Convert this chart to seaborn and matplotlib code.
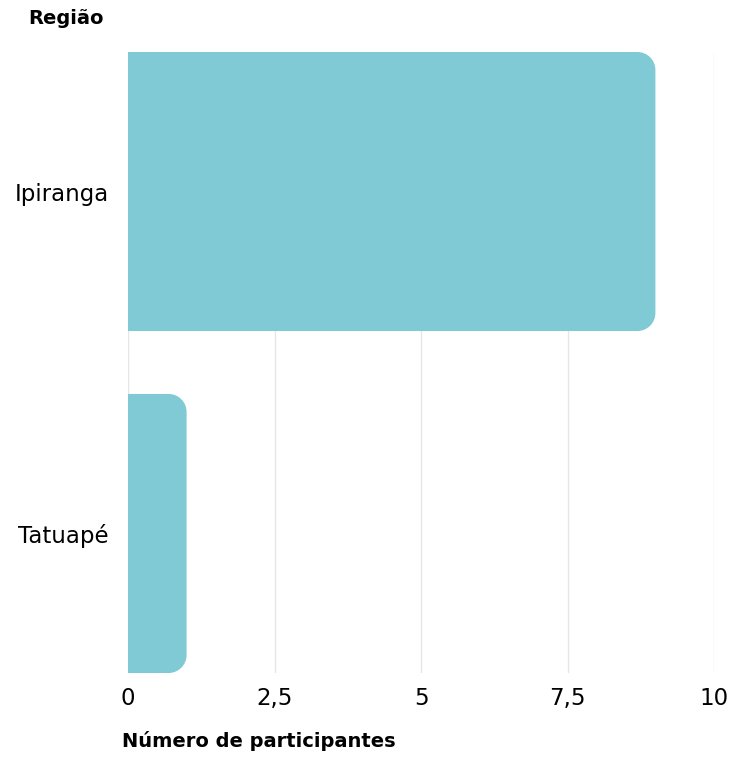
import matplotlib
matplotlib.use("Agg")
import matplotlib.pyplot as plt
import seaborn as sns
import pandas as pd
from matplotlib.path import Path
from matplotlib.patches import PathPatch
from matplotlib.ticker import FuncFormatter

# ---- data ----
regioes = ["Ipiranga", "Tatuapé"]
participantes = [9, 1]
xticks = [0, 2.5, 5, 7.5, 10]

df = pd.DataFrame({"Região": regioes, "Participantes": participantes})

sns.set_theme(style="white")
plt.rcParams["font.family"] = ["DejaVu Sans"]

BAR_COLOR = "#80cad6"
W, H, DPI = 729, 758, 100
fig = plt.figure(figsize=(W / DPI, H / DPI), dpi=DPI)
ax = fig.add_axes([128 / W, 85 / H, (714 - 128) / W, (673 - 52) / H])

width = 0.816
sns.barplot(data=df, y="Região", x="Participantes", orient="h", color=BAR_COLOR,
            saturation=1, width=width, ax=ax, zorder=2)

ax.set_xlim(0, 10)
ax.set_ylim(1 + width / 2, -width / 2)
fig.canvas.draw()

# round right corners of each bar
px_per_x = (714 - 128) / 10.0
px_per_y = (673 - 52) / (1 + width)
r_px = 18
rx = r_px / px_per_x
ry = r_px / px_per_y
k = 0.5523
for p in list(ax.patches):
    x0, y0 = p.get_x(), p.get_y()
    w, h = p.get_width(), p.get_height()
    x1, y1 = x0 + w, y0 + h
    verts = [
        (x0, y0), (x1 - rx, y0),
        (x1 - rx + k * rx, y0), (x1, y0 + ry - k * ry), (x1, y0 + ry),
        (x1, y1 - ry),
        (x1, y1 - ry + k * ry), (x1 - rx + k * rx, y1), (x1 - rx, y1),
        (x0, y1), (x0, y0),
    ]
    codes = [Path.MOVETO, Path.LINETO,
             Path.CURVE4, Path.CURVE4, Path.CURVE4,
             Path.LINETO,
             Path.CURVE4, Path.CURVE4, Path.CURVE4,
             Path.LINETO, Path.CLOSEPOLY]
    ax.add_patch(PathPatch(Path(verts, codes), facecolor=BAR_COLOR,
                           edgecolor="none", zorder=2))
    p.set_visible(False)

ax.set_xticks(xticks)
ax.xaxis.set_major_formatter(FuncFormatter(
    lambda v, _: (f"{v:g}").replace(".", ",")))
ax.grid(axis="x", color="#e6e6e6", linewidth=1, zorder=0)
ax.grid(axis="y", visible=False)
ax.set_axisbelow(True)
for s in ax.spines.values():
    s.set_visible(False)
ax.tick_params(axis="both", length=0, labelsize=16.5, colors="black")
ax.tick_params(axis="x", pad=10)
ax.tick_params(axis="y", pad=14)
ax.set_xlabel("")
ax.set_ylabel("")

fig.text(28 / W, 1 - 19 / H, "Região", fontsize=14, fontweight="bold",
         ha="left", va="center", color="black")
fig.text(122 / W, 1 - 741 / H, "Número de participantes", fontsize=14,
         fontweight="bold", ha="left", va="center", color="black")

fig.savefig("out.png", dpi=DPI, facecolor="white")
